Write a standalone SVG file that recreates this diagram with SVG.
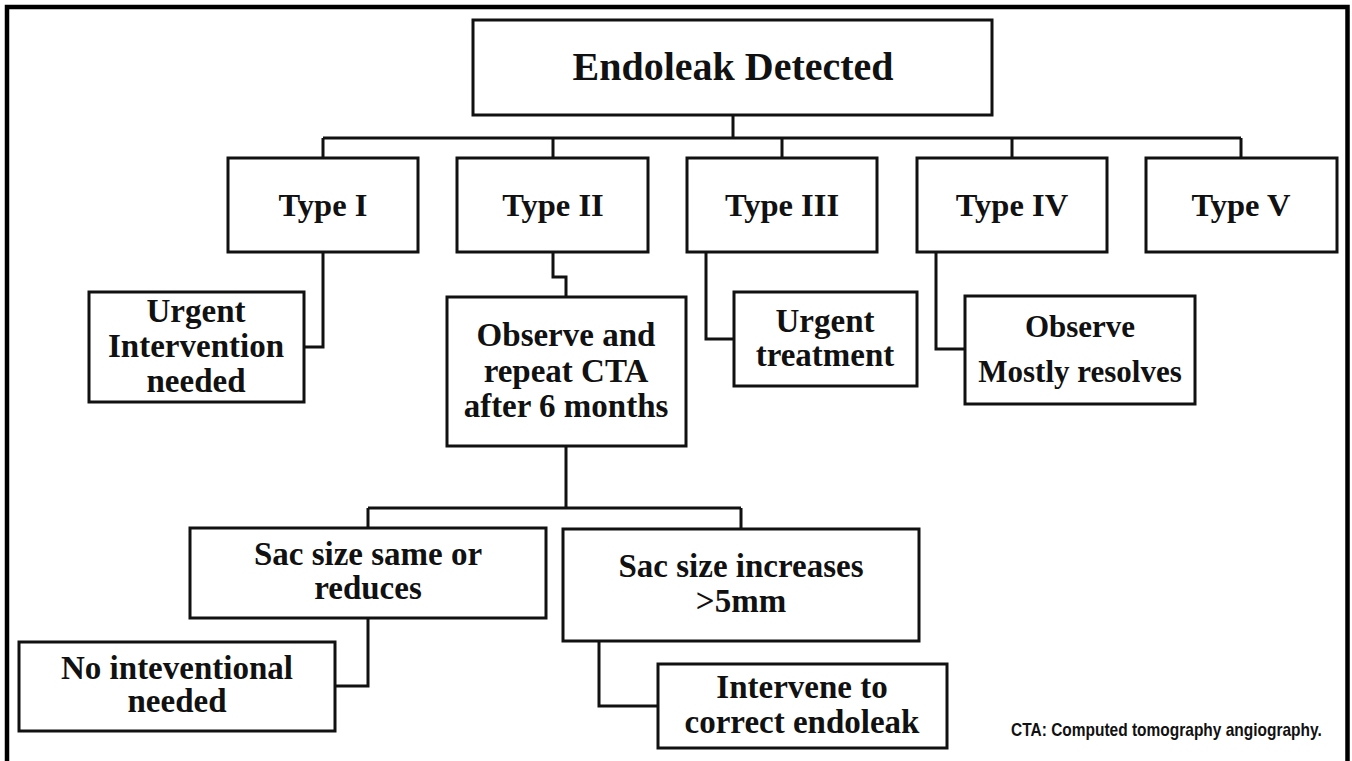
<svg xmlns="http://www.w3.org/2000/svg" width="1352" height="761" viewBox="0 0 1352 761">
<style>
.box{fill:#fff;stroke:#111;stroke-width:3}
.con{fill:none;stroke:#111;stroke-width:3}
.frame{fill:none;stroke:#000;stroke-width:4.5}
.t{font-family:"Liberation Serif","Times New Roman",serif;font-weight:bold;font-size:33px;fill:#111;text-anchor:middle}
.title{font-size:40px}
.ty{font-size:32.5px}
.sm{font-size:31px}
.note{font-family:"Liberation Sans","Arial",sans-serif;font-weight:bold;font-size:19px;fill:#111}
</style>
<rect width="1352" height="761" fill="#fff"/>
<path class="frame" d="M7,761 V7 H1347.5 V761"/>
<g id="connectors">
<path class="con" d="M733,115 V138 M323,138 H1241 M323,138 V158 M553,138 V158 M782,138 V158 M1012,138 V158 M1241,138 V158"/>
<path class="con" d="M323,252 V347 H304"/>
<path class="con" d="M553,252 V277 H566 V297"/>
<path class="con" d="M706,252 V339 H734"/>
<path class="con" d="M936,252 V349 H965"/>
<path class="con" d="M566,446 V508 M368,508 H741 M368,508 V528 M741,508 V529"/>
<path class="con" d="M368,618 V686 H335"/>
<path class="con" d="M599,641 V706 H658"/>
</g>
<g id="endoleak">
<rect class="box" x="473" y="20" width="519" height="95"/>
<text class="t title" x="733" y="80">Endoleak Detected</text>
</g>
<g id="type1">
<rect class="box" x="228" y="158" width="190" height="94"/>
<text class="t ty" x="323" y="216">Type I</text>
</g>
<g id="type2">
<rect class="box" x="457" y="158" width="191" height="94"/>
<text class="t ty" x="553" y="216">Type II</text>
</g>
<g id="type3">
<rect class="box" x="687" y="158" width="190" height="94"/>
<text class="t ty" x="782" y="216">Type III</text>
</g>
<g id="type4">
<rect class="box" x="917" y="158" width="190" height="94"/>
<text class="t ty" x="1012" y="216">Type IV</text>
</g>
<g id="type5">
<rect class="box" x="1146" y="158" width="191" height="94"/>
<text class="t ty" x="1241" y="216">Type V</text>
</g>
<g id="urgent-intervention">
<rect class="box" x="89" y="292" width="215" height="110"/>
<text class="t" x="196" y="322">Urgent</text>
<text class="t" x="196" y="357">Intervention</text>
<text class="t" x="196" y="392">needed</text>
</g>
<g id="observe-repeat">
<rect class="box" x="447" y="297" width="239" height="149"/>
<text class="t" x="566" y="346">Observe and</text>
<text class="t" x="566" y="382">repeat CTA</text>
<text class="t" x="566" y="417">after 6 months</text>
</g>
<g id="urgent-treatment">
<rect class="box" x="734" y="292" width="183" height="94"/>
<text class="t" x="825" y="332">Urgent</text>
<text class="t" x="825" y="366">treatment</text>
</g>
<g id="observe-resolves">
<rect class="box" x="965" y="296" width="230" height="108"/>
<text class="t sm" x="1080" y="337">Observe</text>
<text class="t sm" x="1080" y="382">Mostly resolves</text>
</g>
<g id="sac-same">
<rect class="box" x="190" y="528" width="356" height="90"/>
<text class="t" x="368" y="565">Sac size same or</text>
<text class="t" x="368" y="599">reduces</text>
</g>
<g id="sac-increase">
<rect class="box" x="563" y="529" width="356" height="112"/>
<text class="t" x="741" y="577">Sac size increases</text>
<text class="t" x="741" y="612">&gt;5mm</text>
</g>
<g id="no-intervention">
<rect class="box" x="19" y="642" width="316" height="89"/>
<text class="t" x="177" y="679">No inteventional</text>
<text class="t" x="177" y="712">needed</text>
</g>
<g id="intervene">
<rect class="box" x="658" y="664" width="289" height="84"/>
<text class="t" x="802" y="698">Intervene to</text>
<text class="t" x="802" y="733">correct endoleak</text>
</g>
<text class="note" transform="translate(1011,736) scale(0.815,1)" x="0" y="0">CTA: Computed tomography angiography.</text>
</svg>
